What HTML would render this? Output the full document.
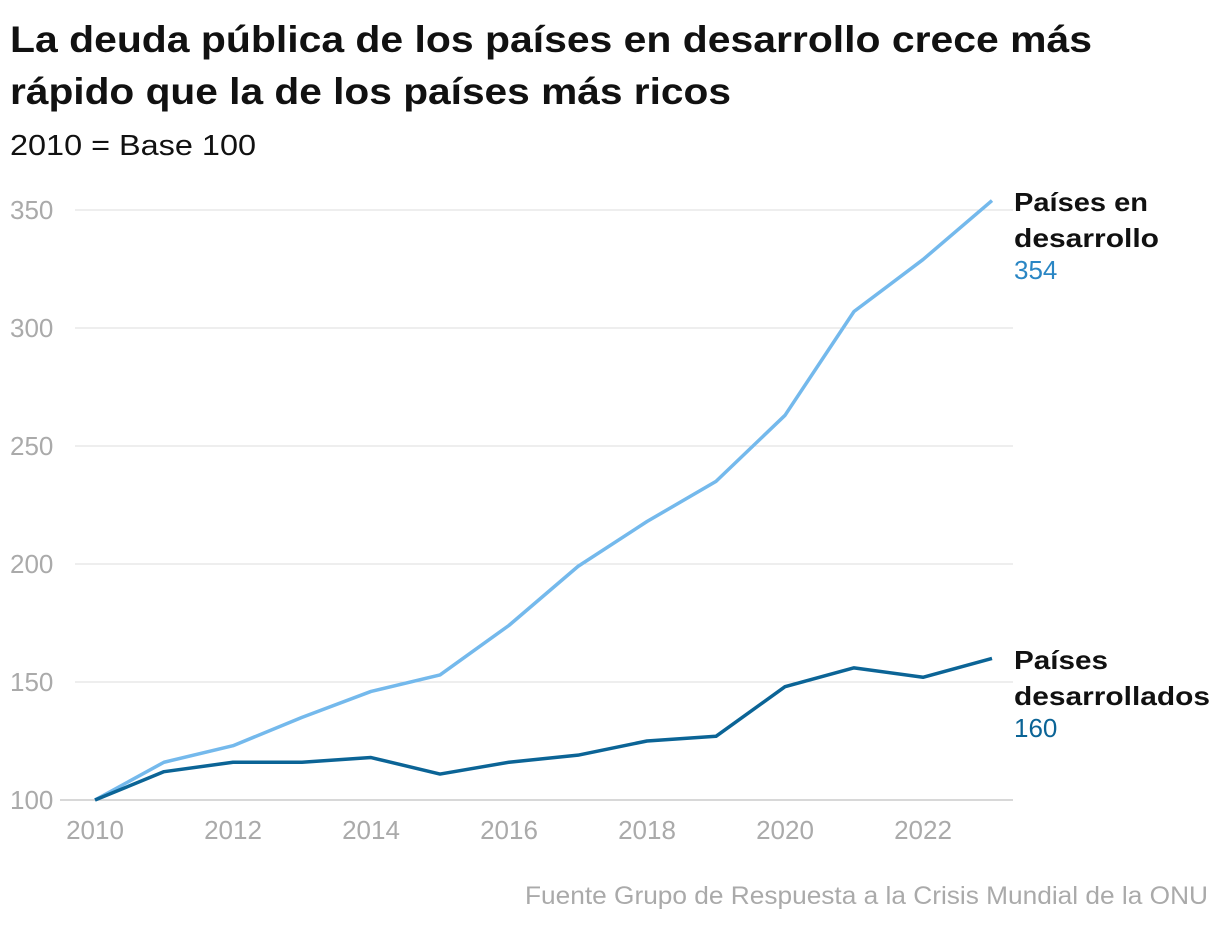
<!DOCTYPE html>
<html><head><meta charset="utf-8"><style>
body{margin:0;background:#fff;width:1220px;height:926px;overflow:hidden;font-family:"Liberation Sans",sans-serif}
</style></head><body>
<svg width="1220" height="926" font-family="Liberation Sans, sans-serif">
<text x="10" y="52" font-size="37" font-weight="bold" fill="#111" textLength="1082" lengthAdjust="spacingAndGlyphs">La deuda pública de los países en desarrollo crece más</text>
<text x="10" y="104" font-size="37" font-weight="bold" fill="#111" textLength="721" lengthAdjust="spacingAndGlyphs">rápido que la de los países más ricos</text>
<text x="10" y="155" font-size="29" fill="#111" textLength="246" lengthAdjust="spacingAndGlyphs">2010 = Base 100</text>
<g id="grid"></g><g id="xt"></g><g id="lines"></g>
<text x="1014" y="211" font-size="26" font-weight="bold" fill="#111"><tspan x="1014" textLength="134" lengthAdjust="spacingAndGlyphs">Países en</tspan><tspan x="1014" dy="36" textLength="145" lengthAdjust="spacingAndGlyphs">desarrollo</tspan></text>
<text x="1014" y="279" font-size="26" fill="#2a86c4">354</text>
<text x="1014" y="669" font-size="26" font-weight="bold" fill="#111"><tspan x="1014" textLength="94" lengthAdjust="spacingAndGlyphs">Países</tspan><tspan x="1014" dy="36" textLength="196" lengthAdjust="spacingAndGlyphs">desarrollados</tspan></text>
<text x="1014" y="737" font-size="26" fill="#0b6496">160</text>
<text x="1208" y="904" font-size="25" fill="#aaa" text-anchor="end" textLength="683" lengthAdjust="spacingAndGlyphs">Fuente Grupo de Respuesta a la Crisis Mundial de la ONU</text>
</svg>
<script>
const years=[2010,2011,2012,2013,2014,2015,2016,2017,2018,2019,2020,2021,2022,2023];
const developing=[100,116,123,135,146,153,174,199,218,235,263,307,329,354];
const developed=[100,112,116,116,118,111,116,119,125,127,148,156,152,160];
const yTicks=[100,150,200,250,300,350];
const xTicks=[2010,2012,2014,2016,2018,2020,2022];
const NS='http://www.w3.org/2000/svg';
const X=y=>95+(y-2010)*69.0;
const Y=v=>800-(v-100)*2.36;
function mk(t,a,p){const e=document.createElementNS(NS,t);for(const k in a)e.setAttribute(k,a[k]);p.appendChild(e);return e;}
const g=document.getElementById('grid');
yTicks.forEach(v=>{
 const l=mk('line',{x1:v===100?60:75,x2:1013,y1:Y(v),y2:Y(v),stroke:v===100?'#ccc':'#ddd','stroke-width':v===100?1.5:1},g);
 
 
 const t=mk('text',{x:10,y:Y(v)+9,'font-size':26,fill:'#aaa'},g);t.textContent=v;
 
 
});
const xt=document.getElementById('xt');
xTicks.forEach(v=>{
 const t=mk('text',{x:X(v),y:839,'font-size':26,fill:'#aaa','text-anchor':'middle'},xt);t.textContent=v;
 
 
});
const lg=document.getElementById('lines');
[[developing,'#74b9ec','line-developing'],[developed,'#0b6496','line-developed']].forEach(([d,c,n])=>{
 const p=mk('polyline',{points:d.map((v,i)=>X(years[i])+','+Y(v)).join(' '),fill:'none',stroke:c,'stroke-width':3.5,'stroke-linejoin':'round'},lg);
 
 
});
</script>
</body></html>
